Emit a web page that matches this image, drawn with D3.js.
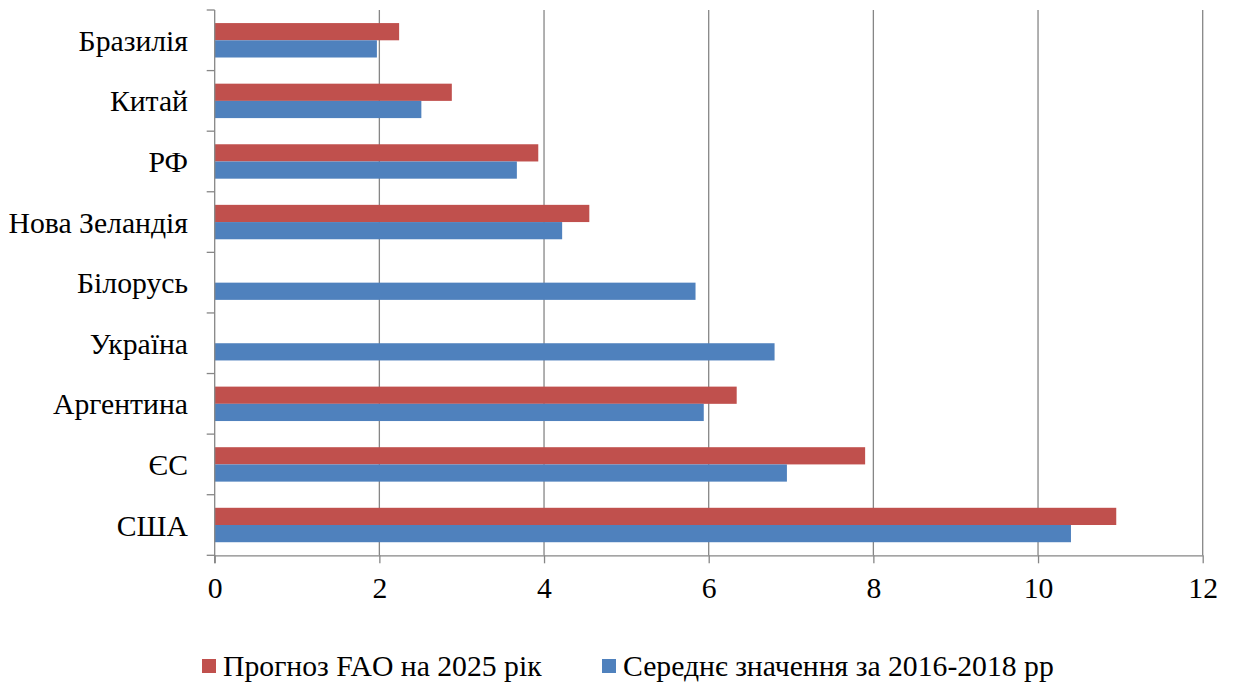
<!DOCTYPE html>
<html>
<head>
<meta charset="utf-8">
<script src="https://cdn.jsdelivr.net/npm/d3@7"></script>
<style>
  html, body { margin: 0; padding: 0; background: #fff; }
</style>
</head>
<body>
<svg id="chart" width="1234" height="686"></svg>
<script>
// Countries, top to bottom
const countries = ["Бразилія", "Китай", "РФ", "Нова Зеландія", "Білорусь", "Україна", "Аргентина", "ЄС", "США"];
// FAO forecast for 2025 (null where not given)
const forecast2025 = [2.24, 2.88, 3.93, 4.55, null, null, 6.34, 7.90, 10.95];
// Average 2016-2018
const avg2016_2018 = [1.97, 2.51, 3.67, 4.22, 5.84, 6.80, 5.94, 6.95, 10.40];
const xTicks = [0, 2, 4, 6, 8, 10, 12];
const seriesNames = ["Прогноз FAO на 2025 рік", "Середнє значення за 2016-2018 рр"];
const seriesColors = ["#C0504D", "#4F81BD"];

const svg = d3.select("#chart");
const plotLeft = 214.7, plotRight = 1202.7, plotTop = 10, plotBottom = 555.3;
const fontSize = 29.7;
const serif = "Liberation Serif";

// apply the text font directly on each text element
const font = sel => sel.attr("font-family", serif).attr("font-size", fontSize).attr("fill", "#000");

const x = d3.scaleLinear().domain([0, 12]).range([plotLeft, plotRight]);
const y = d3.scaleBand().domain(countries).range([plotTop, plotBottom]).paddingInner(0).paddingOuter(0);
const inner = d3.scaleBand().domain([0, 1]).range([0, y.bandwidth()]).paddingInner(0).paddingOuter(0.76);

// vertical gridlines
svg.append("g").selectAll("line")
  .data(xTicks.filter(t => t > 0))
  .join("line")
  .attr("x1", d => x(d)).attr("x2", d => x(d))
  .attr("y1", plotTop).attr("y2", plotBottom)
  .attr("stroke", "#868686").attr("stroke-width", 1.3);

// bars
const series = [forecast2025, avg2016_2018];
series.forEach((vals, si) => {
  svg.append("g").selectAll("rect")
    .data(countries.map((c, i) => ({ c, v: vals[i] })).filter(d => d.v != null))
    .join("rect")
    .attr("x", x(0))
    .attr("y", d => y(d.c) + inner(si))
    .attr("width", d => x(d.v) - x(0))
    .attr("height", inner.bandwidth())
    .attr("fill", seriesColors[si]);
});

// bottom axis
const xAxis = svg.append("g").attr("transform", `translate(0,${plotBottom})`)
  .call(d3.axisBottom(x).tickValues(xTicks).tickSize(8).tickSizeOuter(0).tickFormat(d3.format("d")));
xAxis.attr("font-family", null).attr("font-size", null);
xAxis.select(".domain").attr("stroke", "#868686").attr("stroke-width", 1.3);
xAxis.selectAll(".tick line").attr("stroke", "#868686").attr("stroke-width", 1.3);
xAxis.selectAll(".tick text").call(font).attr("y", 0).attr("dy", 43);

// left axis with ticks at category boundaries
const yAxisG = svg.append("g");
yAxisG.append("line")
  .attr("x1", plotLeft).attr("x2", plotLeft).attr("y1", plotTop).attr("y2", plotBottom + 8)
  .attr("stroke", "#868686").attr("stroke-width", 1.3);
const bounds = countries.map(c => y(c)).concat([plotBottom]);
yAxisG.selectAll("line.tk").data(bounds).join("line")
  .attr("class", "tk")
  .attr("x1", plotLeft - 8).attr("x2", plotLeft)
  .attr("y1", d => d).attr("y2", d => d)
  .attr("stroke", "#868686").attr("stroke-width", 1.3);
yAxisG.selectAll("text").data(countries).join("text")
  .attr("x", 188)
  .attr("y", d => y(d) + y.bandwidth() / 2 + 10.5)
  .attr("text-anchor", "end")
  .call(font)
  .text(d => d);

// legend
const legend = svg.append("g");
const legendItems = [{ x: 202, tx: 223 }, { x: 602, tx: 623 }];
legendItems.forEach((it, i) => {
  legend.append("rect").attr("x", it.x).attr("y", 659).attr("width", 14).attr("height", 14).attr("fill", seriesColors[i]);
  legend.append("text").attr("x", it.tx).attr("y", 676).call(font).text(seriesNames[i]);
});
</script>
</body>
</html>
